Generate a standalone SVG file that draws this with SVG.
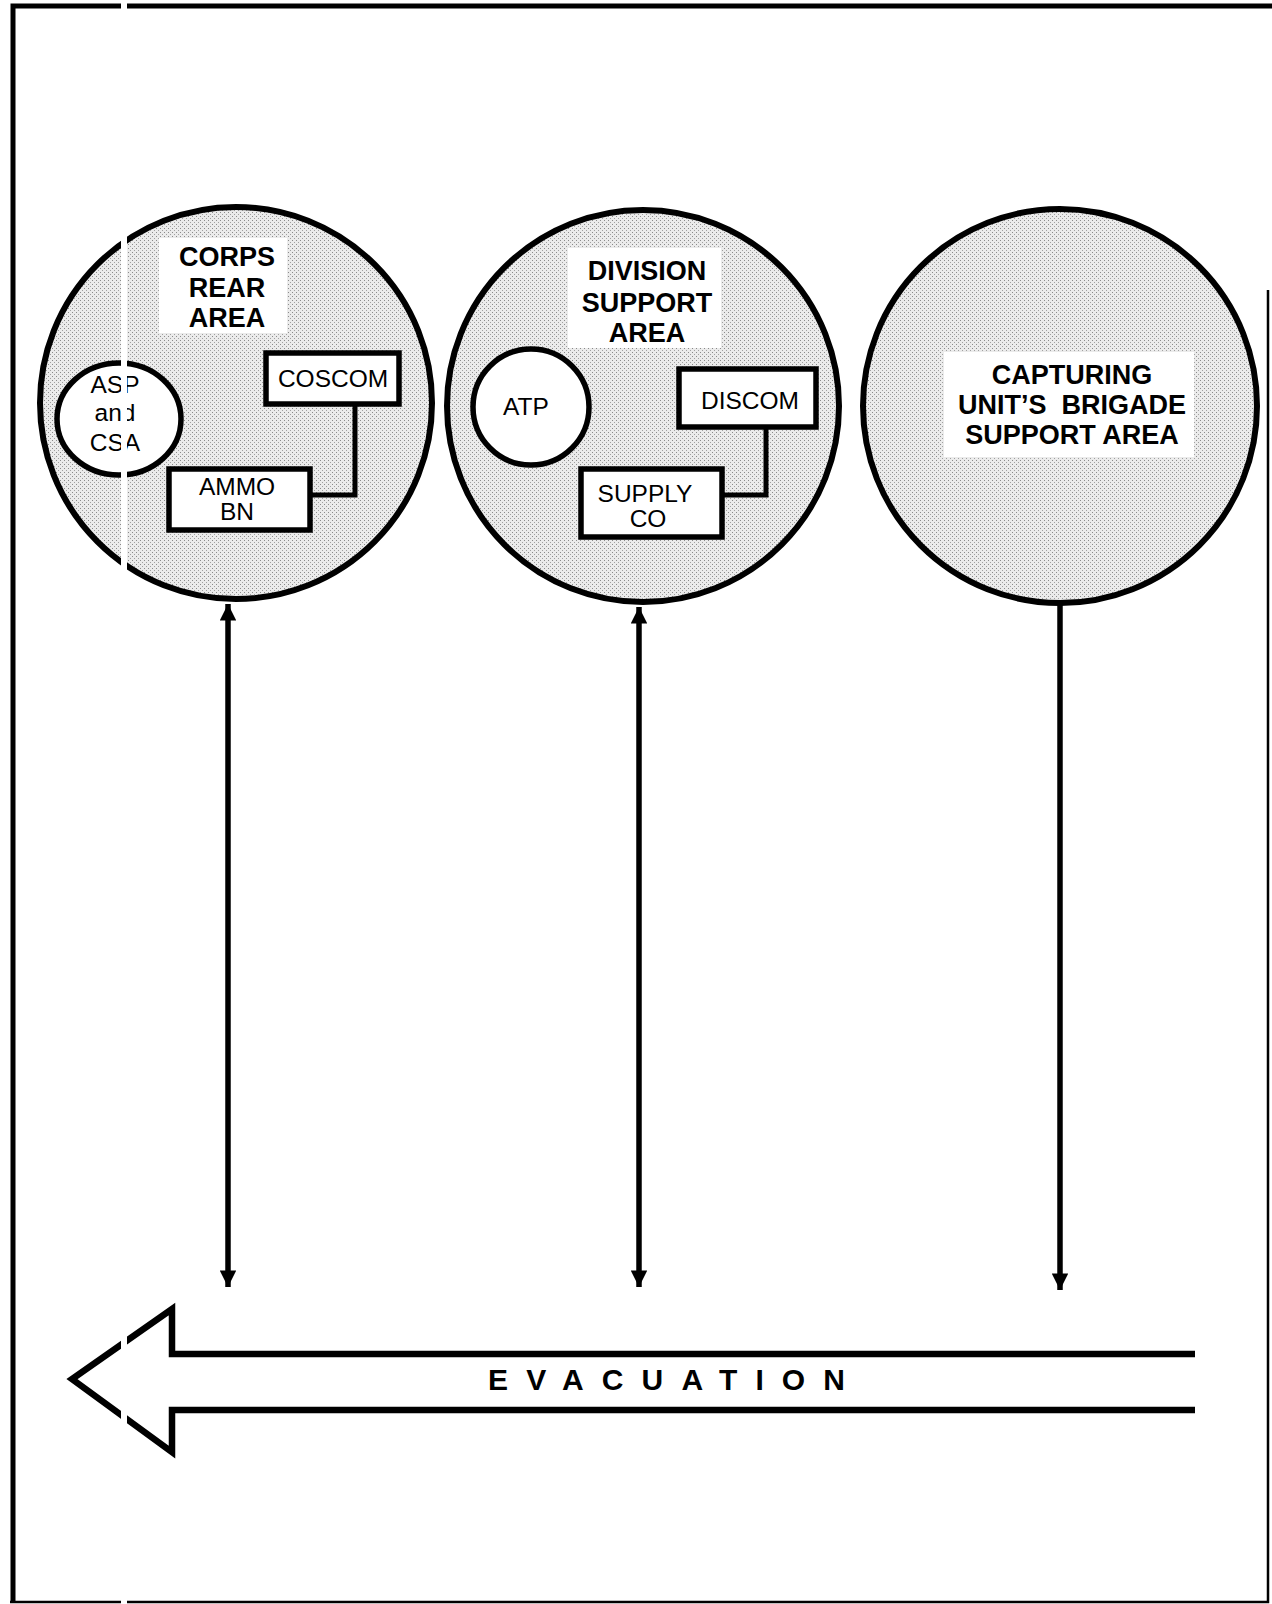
<svg xmlns="http://www.w3.org/2000/svg" width="1272" height="1604" viewBox="0 0 1272 1604">
  <style>
    .area { fill: url(#stipple); stroke: #000; stroke-width: 6; }
    .sub { fill: #fff; stroke: #000; stroke-width: 5.5; }
    .box { fill: #fff; stroke: #000; stroke-width: 5.5; }
    .lbl { fill: #fff; stroke: none; }
    .title { font-family: "Liberation Sans", Arial, sans-serif; font-weight: bold; font-size: 27px; text-anchor: middle; fill: #000; }
    .txt { font-family: "Liberation Sans", Arial, sans-serif; font-size: 24.5px; text-anchor: middle; fill: #000; }
    .link { fill: none; stroke: #000; stroke-width: 5; }
    .conn { fill: none; stroke: #000; stroke-width: 5.5; }
  </style>
  <defs>
    <pattern id="stipple" width="4" height="4" patternUnits="userSpaceOnUse">
      <rect width="4" height="4" fill="#ebebeb"/>
      <rect x="0" y="0" width="1" height="1" fill="#8a8a8a"/>
      <rect x="2" y="2" width="1" height="1" fill="#a0a0a0"/>
    </pattern>
    <marker id="ah" viewBox="0 0 10 10" refX="10" refY="5" markerWidth="3.4" markerHeight="3" orient="auto-start-reverse" markerUnits="strokeWidth">
      <path d="M0,0 L10,5 L0,10 Z" fill="#000"/>
    </marker>
  </defs>
  <rect width="1272" height="1604" fill="#fff"/>

  <g id="frame" fill="none" stroke="#000">
    <path d="M13,1602 V6 H1272" stroke-width="5"/>
    <path d="M10,1602 H1268 V290" stroke-width="2.5"/>
  </g>

  <g id="corps-rear-area">
    <circle class="area" cx="236" cy="403" r="196"/>
    <rect class="lbl" x="159" y="238" width="128" height="95"/>
    <text class="title" x="227" y="266">CORPS</text>
    <text class="title" x="227" y="297">REAR</text>
    <text class="title" x="227" y="327">AREA</text>
  </g>
  <g id="asp-csa">
    <ellipse class="sub" cx="119" cy="419" rx="62" ry="56"/>
    <text class="txt" x="115" y="393">ASP</text>
    <text class="txt" x="115" y="421">and</text>
    <text class="txt" x="115" y="451">CSA</text>
  </g>
  <g id="coscom">
    <rect class="box" x="266" y="353" width="133" height="51"/>
    <text class="txt" x="333" y="387">COSCOM</text>
  </g>
  <g id="ammo-bn">
    <rect class="box" x="169" y="469" width="141" height="61"/>
    <text class="txt" x="237" y="495">AMMO</text>
    <text class="txt" x="237" y="520">BN</text>
  </g>

  <g id="division-support-area">
    <circle class="area" cx="643" cy="406" r="196"/>
    <rect class="lbl" x="568" y="248" width="153" height="100"/>
    <text class="title" x="647" y="280">DIVISION</text>
    <text class="title" x="647" y="312">SUPPORT</text>
    <text class="title" x="647" y="342">AREA</text>
  </g>
  <g id="atp">
    <circle class="sub" cx="531" cy="407" r="58"/>
    <text class="txt" x="526" y="415">ATP</text>
  </g>
  <g id="discom">
    <rect class="box" x="679" y="369" width="137" height="58"/>
    <text class="txt" x="750" y="409">DISCOM</text>
  </g>
  <g id="supply-co">
    <rect class="box" x="581" y="469" width="141" height="68"/>
    <text class="txt" x="645" y="502">SUPPLY</text>
    <text class="txt" x="648" y="527">CO</text>
  </g>

  <g id="brigade-support-area">
    <circle class="area" cx="1060" cy="406" r="197"/>
    <rect class="lbl" x="944" y="352" width="250" height="105"/>
    <text class="title" x="1072" y="384">CAPTURING</text>
    <text class="title" x="1072" y="414" xml:space="preserve">UNIT’S  BRIGADE</text>
    <text class="title" x="1072" y="444">SUPPORT AREA</text>
  </g>

  <g id="connectors">
    <path class="link" d="M355,404 V495 H310"/>
    <path class="link" d="M766,427 V495 H722"/>
    <line class="conn" x1="228" y1="604" x2="228" y2="1287" marker-start="url(#ah)" marker-end="url(#ah)"/>
    <line class="conn" x1="639" y1="607" x2="639" y2="1287" marker-start="url(#ah)" marker-end="url(#ah)"/>
    <line class="conn" x1="1060" y1="603" x2="1060" y2="1290" marker-end="url(#ah)"/>
  </g>

  <g id="evacuation">
    <path d="M1195,1354 H172 V1309 L72,1379 L172,1452 V1410 H1195" fill="none" stroke="#000" stroke-width="6.5" stroke-linejoin="miter"/>
    <text x="488" y="1390" textLength="357" lengthAdjust="spacing" font-family="Liberation Sans, Arial, sans-serif" font-weight="bold" font-size="30" fill="#000">EVACUATION</text>
  </g>

  <rect id="scan-gap" x="121" y="0" width="6" height="1604" fill="#fff"/>
</svg>
